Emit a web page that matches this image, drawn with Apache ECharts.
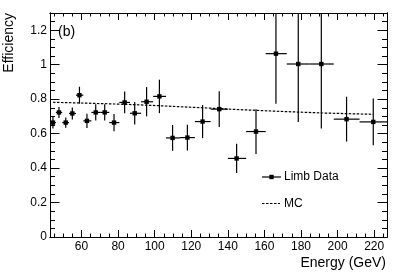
<!DOCTYPE html>
<html>
<head>
<meta charset="utf-8">
<script src="https://cdn.jsdelivr.net/npm/echarts@6/dist/echarts.min.js"></script>
<style>
html,body{margin:0;padding:0;background:#fff;}
#c{width:399px;height:273px;}
</style>
</head>
<body>
<div id="c"></div>
<script>
// ---- data ----
const binLow  = [42.8, 46.0, 49.5, 53.2, 57.0, 61.0, 65.4, 70.2, 75.2, 80.7, 86.5, 92.6, 99.2, 106.2, 113.8, 122.0, 130.6, 140.0, 150.0, 160.7, 172.2, 184.7, 197.9, 212.0];
const binHigh = [46.0, 49.5, 53.2, 57.0, 61.0, 65.4, 70.2, 75.2, 80.7, 86.5, 92.6, 99.2, 106.2, 113.8, 122.0, 130.6, 140.0, 150.0, 160.7, 172.2, 184.7, 197.9, 212.0, 227.0];
const energy  = [44.4, 47.7, 51.4, 55.0, 58.9, 63.0, 67.8, 72.7, 77.8, 83.6, 89.1, 95.6, 102.6, 109.8, 117.9, 126.2, 135.3, 144.8, 155.4, 166.3, 178.5, 191.1, 204.9, 219.5];
const limbEff = [0.664, 0.723, 0.664, 0.717, 0.823, 0.674, 0.723, 0.723, 0.664, 0.781, 0.718, 0.785, 0.816, 0.575, 0.577, 0.670, 0.742, 0.456, 0.612, 1.064, 1.004, 1.004, 0.684, 0.668];
const limbErr = [0.034, 0.032, 0.030, 0.035, 0.049, 0.042, 0.047, 0.047, 0.050, 0.063, 0.065, 0.085, 0.097, 0.075, 0.075, 0.096, 0.104, 0.085, 0.130, 0.290, 0.336, 0.375, 0.130, 0.136];
const mcEff   = [0.782, 0.781, 0.780, 0.779, 0.778, 0.777, 0.775, 0.774, 0.772, 0.770, 0.768, 0.765, 0.762, 0.758, 0.754, 0.750, 0.745, 0.740, 0.735, 0.730, 0.725, 0.720, 0.716, 0.712];
const seriesNames = ['Limb Data', 'MC'];
const xRange = [42.8, 227];
const yRange = [0, 1.3];

const FONT = 'Liberation Sans, Arial, Helvetica, sans-serif';
const limbData = energy.map((e, i) => [e, limbEff[i], binLow[i], binHigh[i], limbErr[i]]);
const mcData = energy.map((e, i) => [e, mcEff[i]]);

function xAx(pos, step, len, showLabel) {
  return {
    type: 'value', position: pos, min: xRange[0], max: xRange[1],
    minInterval: step, maxInterval: step, splitNumber: Math.round((xRange[1] - xRange[0]) / step),
    axisLine: {show: true, onZero: false, lineStyle: {color: '#000', width: 1}},
    axisTick: {show: true, inside: true, length: len, lineStyle: {color: '#000', width: 1}},
    axisLabel: {show: showLabel, interval: 0, showMinLabel: false, showMaxLabel: false, color: '#000', fontSize: 12, fontFamily: FONT, margin: 4},
    splitLine: {show: false}
  };
}
function yAx(pos, step, len, showLabel) {
  return {
    type: 'value', position: pos, min: yRange[0], max: yRange[1],
    minInterval: step, maxInterval: step, splitNumber: Math.round((yRange[1] - yRange[0]) / step),
    axisLine: {show: true, onZero: false, lineStyle: {color: '#000', width: 1}},
    axisTick: {show: true, inside: true, length: len, lineStyle: {color: '#000', width: 1}},
    axisLabel: {show: showLabel, interval: 0, showMaxLabel: false, color: '#000', fontSize: 12, fontFamily: FONT, margin: 3},
    splitLine: {show: false}
  };
}

const chart = echarts.init(document.getElementById('c'), null, {renderer: 'canvas'});
chart.setOption({
  animation: false,
  backgroundColor: '#fff',
  grid: {left: 50, right: 12, top: 13, bottom: 36, containLabel: false},
  xAxis: [xAx('bottom', 20, 7, true), xAx('bottom', 5, 3.5, false), xAx('top', 20, 7, false), xAx('top', 5, 3.5, false)],
  yAxis: [yAx('left', 0.2, 9.5, true), yAx('left', 0.05, 5, false), yAx('right', 0.2, 9.5, false), yAx('right', 0.05, 5, false)],
  series: [
    {
      name: seriesNames[1], type: 'line', data: mcData, xAxisIndex: 0, yAxisIndex: 0,
      symbol: 'none', smooth: false,
      lineStyle: {color: '#000', width: 1.2, type: [2.5, 1.5]},
      itemStyle: {color: '#000'}, z: 2
    },
    {
      name: seriesNames[0], type: 'custom', data: limbData, xAxisIndex: 0, yAxisIndex: 0, z: 3,
      renderItem: function (params, api) {
        const x = api.value(0), y = api.value(1), xl = api.value(2), xh = api.value(3), e = api.value(4);
        const yt = Math.min(y + e, yRange[1]), yb = Math.max(y - e, yRange[0]);
        const pL = api.coord([xl, y]), pH = api.coord([xh, y]);
        const pT = api.coord([x, yt]), pB = api.coord([x, yb]);
        const pC = api.coord([x, y]);
        return {
          type: 'group',
          children: [
            {type: 'line', shape: {x1: pL[0], y1: pL[1], x2: pH[0], y2: pH[1]}, style: {stroke: '#000', lineWidth: 1.2}},
            {type: 'line', shape: {x1: pT[0], y1: pT[1], x2: pB[0], y2: pB[1]}, style: {stroke: '#000', lineWidth: 1.2}},
            {type: 'rect', shape: {x: pC[0] - 2.2, y: pC[1] - 2.2, width: 4.4, height: 4.4}, style: {fill: '#000'}}
          ]
        };
      }
    }
  ],
  graphic: [
    {type: 'text', x: 9, y: 13, rotation: Math.PI / 2,
     style: {text: 'Efficiency', fill: '#000', fontSize: 14, fontFamily: FONT, align: 'right', verticalAlign: 'middle'}},
    {type: 'text', x: 386, y: 263,
     style: {text: 'Energy (GeV)', fill: '#000', fontSize: 14, fontFamily: FONT, align: 'right', verticalAlign: 'middle'}},
    {type: 'text', x: 58, y: 32,
     style: {text: '(b)', fill: '#000', fontSize: 14, fontFamily: FONT, align: 'left', verticalAlign: 'middle'}},
    {type: 'line', shape: {x1: 262, y1: 177, x2: 281, y2: 177}, style: {stroke: '#000', lineWidth: 1.2}},
    {type: 'rect', shape: {x: 269.3, y: 174.8, width: 4.4, height: 4.4}, style: {fill: '#000'}},
    {type: 'text', x: 284, y: 177,
     style: {text: seriesNames[0], fill: '#000', fontSize: 12, fontFamily: FONT, align: 'left', verticalAlign: 'middle'}},
    {type: 'line', shape: {x1: 262, y1: 203.5, x2: 280, y2: 203.5}, style: {stroke: '#000', lineWidth: 1.2, lineDash: [2.5, 1.5]}},
    {type: 'text', x: 284, y: 203.5,
     style: {text: seriesNames[1], fill: '#000', fontSize: 12, fontFamily: FONT, align: 'left', verticalAlign: 'middle'}}
  ]
});
</script>
</body>
</html>
